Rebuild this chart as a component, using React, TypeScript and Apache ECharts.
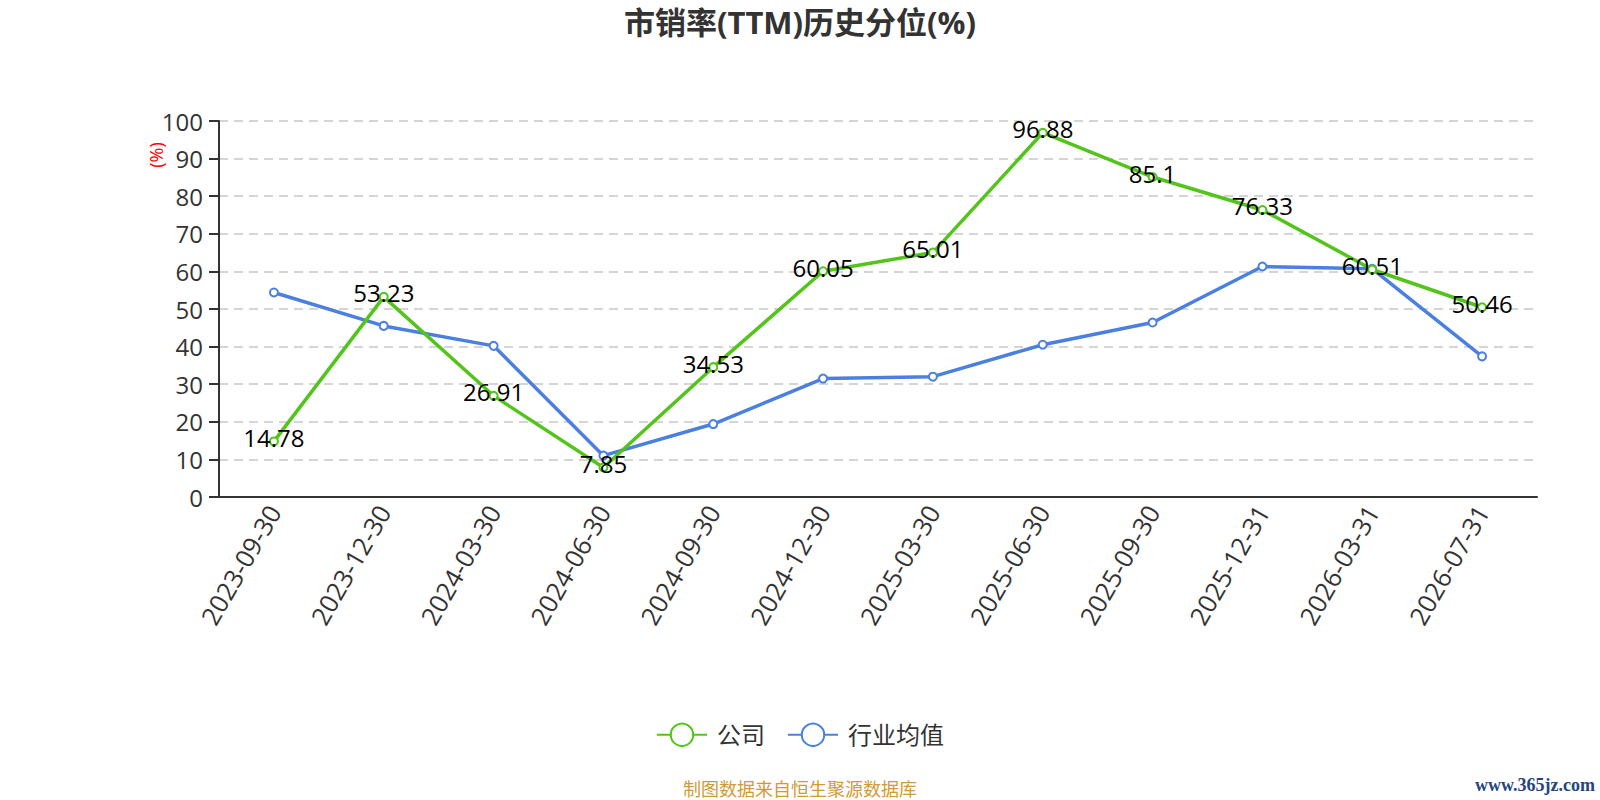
import React, { useEffect, useRef } from "react";
import * as echarts from "echarts";

const categories = [
  "2023-09-30", "2023-12-30", "2024-03-30", "2024-06-30", "2024-09-30", "2024-12-30",
  "2025-03-30", "2025-06-30", "2025-09-30", "2025-12-31", "2026-03-31", "2026-07-31",
];
const companyValues = [14.78, 53.23, 26.91, 7.85, 34.53, 60.05, 65.01, 96.88, 85.1, 76.33, 60.51, 50.46];
const industryValues = [54.4, 45.5, 40.2, 11.0, 19.4, 31.5, 32.0, 40.5, 46.4, 61.3, 60.7, 37.4];
const seriesNames = ["公司", "行业均值"];
const titleText = "市销率(TTM)历史分位(%)";
const footerText = "制图数据来自恒生聚源数据库";
const watermarkText = "www.365jz.com";
const yAxisName = "(%)";

const FONT = '"Open Sans", "Noto Sans CJK SC", sans-serif';

export default function App() {
  const ref = useRef<HTMLDivElement>(null);
  useEffect(() => {
    if (!ref.current) return;
    const chart = echarts.init(ref.current, null, { renderer: "svg" });
    chart.setOption({
      animation: false,
      backgroundColor: "#ffffff",
      textStyle: { fontFamily: FONT },
      title: {
        text: titleText,
        left: "center",
        top: 6,
        padding: 0,
        textStyle: { fontSize: 31, fontWeight: "bold", color: "#333333", fontFamily: FONT },
      },
      legend: {
        bottom: 48,
        left: "center",
        itemWidth: 50,
        itemHeight: 28,
        itemGap: 22,
        textStyle: { fontSize: 24, color: "#333333", fontFamily: FONT, padding: [0, 0, 0, 5] },
        data: seriesNames,
      },
      grid: { left: 219, right: 63, top: 121, bottom: 303 },
      xAxis: {
        type: "category",
        data: categories,
        boundaryGap: true,
        axisLine: { lineStyle: { color: "#333333", width: 2 } },
        axisTick: { length: 10, lineStyle: { color: "#333333", width: 2 } },
        axisLabel: { rotate: 60, fontSize: 25.5, color: "#333333", margin: 10, fontFamily: FONT },
      },
      yAxis: {
        type: "value",
        min: 0,
        max: 100,
        interval: 10,
        axisLine: { show: true, lineStyle: { color: "#333333", width: 2 } },
        axisTick: { show: true, length: 10, lineStyle: { color: "#333333", width: 2 } },
        axisLabel: { fontSize: 24, color: "#333333", margin: 16, fontFamily: FONT },
        splitLine: { lineStyle: { color: "#c8c8c8", width: 1.5, type: [9, 6] } },
      },
      series: [
        {
          name: seriesNames[0],
          type: "line",
          data: companyValues,
          symbol: "emptyCircle",
          symbolSize: 8,
          color: "#52c41a",
          lineStyle: { width: 3.5, color: "#52c41a" },
          itemStyle: { color: "#52c41a", borderWidth: 2 },
          label: {
            show: true,
            position: "inside",
            offset: [0, -4],
            fontSize: 24,
            color: "#000000",
            fontFamily: FONT,
          },
          z: 3,
        },
        {
          name: seriesNames[1],
          type: "line",
          data: industryValues,
          symbol: "emptyCircle",
          symbolSize: 8,
          color: "#4b80e0",
          lineStyle: { width: 3.5, color: "#4b80e0" },
          itemStyle: { color: "#4b80e0", borderWidth: 2 },
          z: 2,
        },
      ],
      graphic: [
        {
          type: "text",
          x: 156,
          y: 155,
          rotation: Math.PI / 2,
          style: {
            text: yAxisName,
            fill: "#ff0000",
            fontSize: 18,
            fontFamily: FONT,
            align: "center",
            verticalAlign: "middle",
          },
        },
        {
          type: "text",
          x: 800,
          y: 789,
          style: {
            text: footerText,
            fill: "#cf9b35",
            fontSize: 18,
            fontFamily: FONT,
            align: "center",
            verticalAlign: "middle",
          },
        },
        {
          type: "text",
          x: 1595,
          y: 785,
          style: {
            text: watermarkText,
            fill: "#24457e",
            fontSize: 18,
            fontWeight: "bold",
            fontFamily: '"Liberation Serif", serif',
            align: "right",
            verticalAlign: "middle",
          },
        },
      ],
    });
    return () => chart.dispose();
  }, []);
  return (
    <div
      ref={ref}
      style={{ position: "fixed", left: 0, top: 0, width: 1600, height: 800, background: "#fff" }}
    />
  );
}
